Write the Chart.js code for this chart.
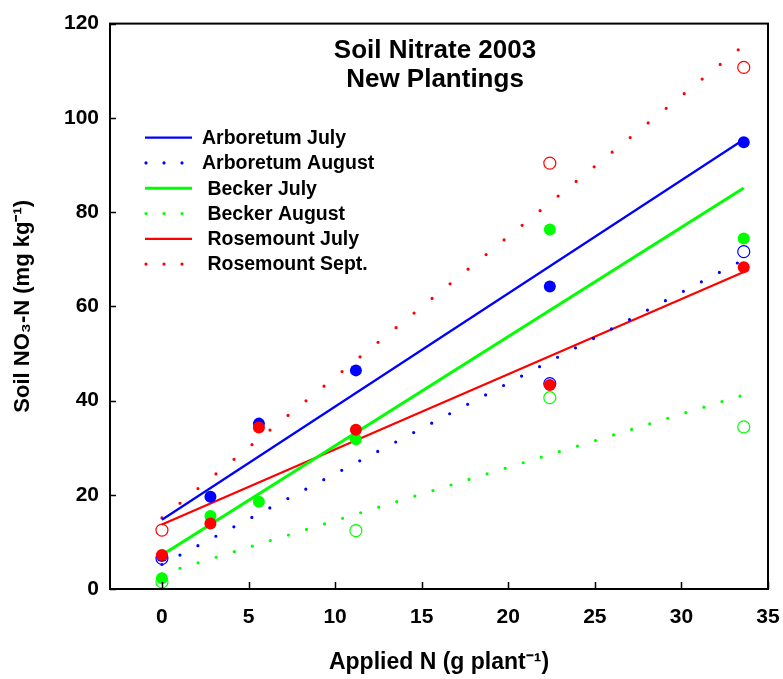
<!DOCTYPE html>
<html>
<head>
<meta charset="utf-8">
<title>Soil Nitrate 2003</title>
<script src="https://cdn.jsdelivr.net/npm/chart.js@4.4.0/dist/chart.umd.min.js"></script>
<style>
  html, body { margin: 0; padding: 0; background: #fff; }
  #wrap { width: 783px; height: 679px; position: relative; }
</style>
</head>
<body>
<div id="wrap"><canvas id="nitrateChart"></canvas></div>
<script>
// Applied N rates (g plant-1)
const nRates = [0, 2.8, 5.6, 11.2, 22.4, 33.6];

// Measured soil NO3-N (mg kg-1), null = not sampled / not shown
const arbJuly    = [7.0, 19.6, 35.1, 46.4, 64.2, 94.8];
const arbAug     = [6.5, null, null, null, 43.6, 71.6];
const beckerJuly = [2.3, 15.5, 18.5, 31.8, 76.3, 74.4];
const beckerAug  = [1.5, null, null, 12.4, 40.6, 34.4];
const roseJuly   = [7.2, 13.9, 34.3, 33.8, 43.3, 68.3];
const roseSept   = [12.5, null, null, null, 90.4, 110.7];

// Fitted lines, read at both ends
const fitX          = [0, 33.6];
const arbJulyFit    = [14.7, 95.4];
const arbAugFit     = [5.2, 69.9];
const beckerJulyFit = [7.2, 85.1];
const beckerAugFit  = [3.2, 41.2];
const roseJulyFit   = [13.7, 67.3];
const roseSeptFit   = [15.1, 115.4];

const xTicks = [0, 5, 10, 15, 20, 25, 30, 35];
const yTicks = [0, 20, 40, 60, 80, 100, 120];

const BLUE = '#0000ff';
const GREEN = '#00ff00';
const RED = '#ff0000';
const FONT = "'Liberation Sans', Arial, sans-serif";

// Scatter points (filled = July, open = later sampling)
function pointSet(label, values, color, open) {
  return {
    label: label,
    data: nRates.map((x, i) => ({ x: x, y: values[i] })).filter(p => p.y !== null),
    showLine: false,
    pointRadius: 6,
    pointHoverRadius: 6,
    pointBackgroundColor: open ? 'rgba(0,0,0,0)' : color,
    pointBorderColor: color,
    pointBorderWidth: open ? 1.2 : 0,
    inLegend: false
  };
}

// Regression line
function fitSet(label, values, color, dotted, width, gap) {
  return {
    label: label,
    data: fitX.map((x, i) => ({ x: x, y: values[i] })),
    showLine: true,
    pointRadius: 0,
    borderColor: color,
    borderWidth: dotted ? 3.2 : width,
    borderDash: dotted ? [0, gap] : [],
    borderCapStyle: dotted ? 'round' : 'butt',
    inLegend: true,
    dotted: dotted,
    lineW: width
  };
}

const datasets = [
  pointSet('Rosemount July pts', roseJuly, RED, false),
  pointSet('Rosemount Sept. pts', roseSept, RED, true),
  pointSet('Becker July pts', beckerJuly, GREEN, false),
  pointSet('Becker August pts', beckerAug, GREEN, true),
  pointSet('Arboretum July pts', arbJuly, BLUE, false),
  pointSet('Arboretum August pts', arbAug, BLUE, true),
  fitSet('Arboretum July', arbJulyFit, BLUE, false, 2.2),
  fitSet('Arboretum August', arbAugFit, BLUE, true, 3, 20.3),
  fitSet(' Becker July', beckerJulyFit, GREEN, false, 3),
  fitSet(' Becker August', beckerAugFit, GREEN, true, 3, 18.9),
  fitSet(' Rosemount July', roseJulyFit, RED, false, 2.2),
  fitSet(' Rosemount Sept.', roseSeptFit, RED, true, 3, 23.2)
];

// Frame, inward ticks, title and legend inside the plot
const chartDecor = {
  id: 'chartDecor',
  afterDraw(chart) {
    const { ctx, chartArea: a, scales } = chart;
    ctx.save();
    ctx.strokeStyle = '#000';
    ctx.lineWidth = 2;
    ctx.strokeRect(a.left, a.top, a.right - a.left, a.bottom - a.top);

    ctx.lineWidth = 1.5;
    scales.x.ticks.forEach(t => {
      const px = Math.round(scales.x.getPixelForValue(t.value)) + 0.5;
      ctx.beginPath();
      ctx.moveTo(px, a.bottom);
      ctx.lineTo(px, a.bottom - 7);
      ctx.stroke();
    });
    scales.y.ticks.forEach(t => {
      const py = Math.round(scales.y.getPixelForValue(t.value)) + 0.5;
      ctx.beginPath();
      ctx.moveTo(a.left, py);
      ctx.lineTo(a.left + 6, py);
      ctx.stroke();
    });

    // title
    ctx.fillStyle = '#000';
    ctx.font = 'bold 26px ' + FONT;
    ctx.textAlign = 'center';
    ctx.textBaseline = 'middle';
    ctx.fillText('Soil Nitrate 2003', a.left + 325, a.top + 27);
    ctx.fillText('New Plantings', a.left + 325, a.top + 56);

    // legend
    const lx = a.left + 35;
    let ly = a.top + 114;
    ctx.textAlign = 'left';
    ctx.font = 'bold 19.5px ' + FONT;
    chart.data.datasets.filter(d => d.inLegend).forEach(d => {
      ctx.strokeStyle = d.borderColor;
      ctx.beginPath();
      if (d.dotted) {
        ctx.lineWidth = 3.2;
        ctx.lineCap = 'round';
        ctx.setLineDash([0, 18]);
        ctx.moveTo(lx + 1, ly);
        ctx.lineTo(lx + 38, ly);
      } else {
        ctx.lineWidth = d.lineW;
        ctx.lineCap = 'butt';
        ctx.setLineDash([]);
        ctx.moveTo(lx, ly);
        ctx.lineTo(lx + 47, ly);
      }
      ctx.stroke();
      ctx.fillStyle = '#000';
      ctx.fillText(d.label, lx + 57, ly + 1);
      ly += 25.3;
    });
    ctx.restore();
  }
};

new Chart(document.getElementById('nitrateChart'), {
  type: 'scatter',
  data: { datasets: datasets },
  options: {
    responsive: true,
    maintainAspectRatio: false,
    animation: false,
    layout: { padding: { top: 21, right: 15, bottom: 0, left: 0 } },
    plugins: {
      legend: { display: false },
      tooltip: { enabled: false }
    },
    scales: {
      x: {
        type: 'linear',
        min: -3,
        max: 35,
        afterBuildTicks: s => { s.ticks = xTicks.map(v => ({ value: v })); },
        afterFit: s => { s.height = 90; s.paddingLeft = 0; s.paddingRight = 0; },
        grid: { display: false, drawTicks: false },
        border: { display: false },
        ticks: {
          color: '#000',
          padding: 16,
          maxRotation: 0,
          font: { family: FONT, size: 21, weight: 'bold' }
        },
        title: {
          display: true,
          text: 'Applied N (g plant\u207B\u00B9)',
          color: '#000',
          padding: { top: 0, bottom: 3 },
          font: { family: FONT, size: 23, weight: 'bold' }
        }
      },
      y: {
        type: 'linear',
        min: 0,
        max: 120,
        afterBuildTicks: s => { s.ticks = yTicks.map(v => ({ value: v })); },
        afterFit: s => { s.width = 110; },
        grid: { display: false, drawTicks: false },
        border: { display: false },
        ticks: {
          color: '#000',
          padding: 11,
          font: { family: FONT, size: 21, weight: 'bold' }
        },
        title: {
          display: true,
          text: 'Soil NO\u2083-N (mg kg\u207B\u00B9)',
          color: '#000',
          padding: { top: 10, bottom: 0 },
          font: { family: FONT, size: 22, weight: 'bold' }
        }
      }
    }
  },
  plugins: [chartDecor]
});
</script>
</body>
</html>
